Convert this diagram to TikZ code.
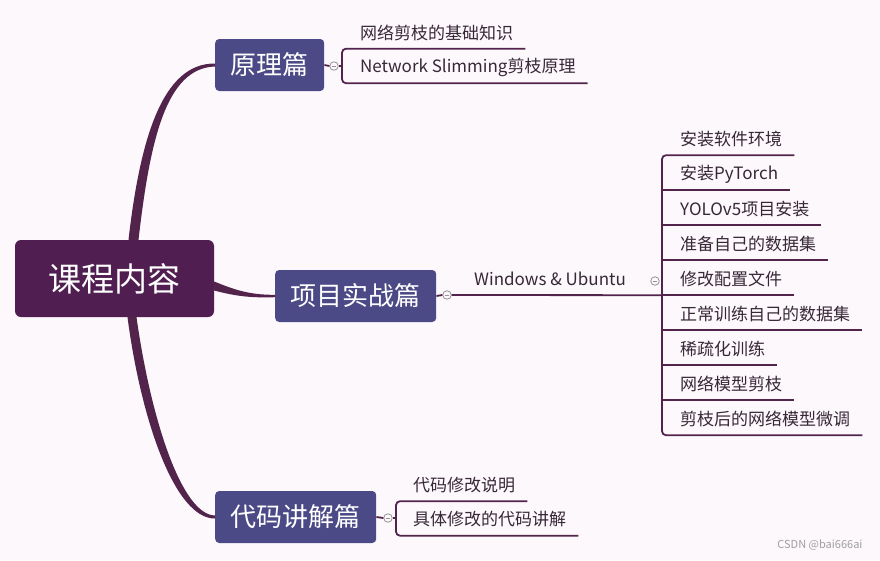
\documentclass[tikz,border=0pt]{standalone}
\usepackage{fontspec}
\setmainfont{Noto Sans CJK SC}
\usepackage{tikz}
\usetikzlibrary{calc,positioning}
\usepackage{xcolor}
\definecolor{paper}{RGB}{252,248,252}
\definecolor{hubc}{RGB}{80,30,80}
\definecolor{topicc}{RGB}{76,74,134}
\definecolor{twigc}{RGB}{82,36,76}
\definecolor{leafc}{RGB}{55,40,55}

\begin{document}
\begin{tikzpicture}[
  x=1pt, y=-1pt,
  hub/.style={fill=hubc, rounded corners=6pt, text=white, font=\fontsize{33}{38}\selectfont,
    minimum width=199pt, minimum height=77pt},
  topic/.style={fill=topicc, rounded corners=4pt, text=white, font=\fontsize{26}{30}\selectfont,
    minimum height=52pt, inner xsep=15.5pt, anchor=west},
  leaf/.style={anchor=west, inner xsep=0pt, minimum height=32pt, text=leafc,
    font=\fontsize{17}{20}\selectfont},
  twig/.style={draw=twigc, line width=1.8pt},
  knob/.style={circle, draw=gray!85, fill=paper, line width=0.8pt, minimum size=8.5pt, inner sep=0pt,
    path picture={\draw[gray!85, line width=0.7pt]
      ([xshift=-2.4pt]path picture bounding box.center) -- ([xshift=2.4pt]path picture bounding box.center);}},
  stamp/.style={anchor=east, text=gray!75, font=\fontsize{11}{13}\selectfont}
]
\fill[paper] (0,0) rectangle (880,560);

\node[hub] (hub) at (114.5,278.5) {课程内容};
\node[topic] (p1) at (215,65) {原理篇};
\node[topic] (p2) at (275,296) {项目实战篇};
\node[topic] (p3) at (215,517) {代码讲解篇};

% tapered branches
\fill[twigc] ($(hub.north)+(14,0)$) .. controls (140,140) and (162,63) .. ($(p1.west)+(0,-1.5)$)
  -- ($(p1.west)+(0,1.5)$) .. controls (166,68) and (150,140) .. ($(hub.north)+(24,0)$) -- cycle;
\fill[twigc] ($(hub.east)+(0,3)$) .. controls (235,290) and (250,295) .. ($(p2.west)+(0,-1.2)$)
  -- ($(p2.west)+(0,1.2)$) .. controls (250,298) and (235,296) .. ($(hub.east)+(0,12)$) -- cycle;
\fill[twigc] ($(hub.south)+(13,0)$) .. controls (141,420) and (175,519) .. ($(p3.west)+(0,1.5)$)
  -- ($(p3.west)+(0,-1.5)$) .. controls (182,515) and (151,420) .. ($(hub.south)+(22,0)$) -- cycle;

% 原理篇
\node[knob] (k1) at (334,66) {};
\node[leaf] (a1) at (360,32.5) {网络剪枝的基础知识};
\node[leaf] (a2) at (360,67) {Network Slimming剪枝原理};
\draw[twig] (p1.east) -- (k1.west);
\draw[twig, rounded corners=4pt] ($(a1.south east)+(12,0)$) -- ($(a1.south west)+(-18,0)$)
  -- ($(a2.south west)+(-18,0)$) -- ($(a2.south east)+(12,0)$);
\draw[twig] (k1.east) -- ($(k1 -| a2.west)+(-18,0)$);

% 项目实战篇
\node[knob] (k2) at (447,295) {};
\node[leaf] (wu) at (474,279) {Windows \& Ubuntu};
\node[knob] (k3) at (655,281) {};
\node[leaf] (b1) at (680,139) {安装软件环境};
\node[leaf] (b2) at (680,174) {安装PyTorch};
\node[leaf] (b3) at (680,209) {YOLOv5项目安装};
\node[leaf] (b4) at (680,244) {准备自己的数据集};
\node[leaf] (b5) at (680,279) {修改配置文件};
\node[leaf] (b6) at (680,314) {正常训练自己的数据集};
\node[leaf] (b7) at (680,349) {稀疏化训练};
\node[leaf] (b8) at (680,384) {网络模型剪枝};
\node[leaf] (b9) at (680,419) {剪枝后的网络模型微调};
\draw[twig] (p2.east) -- (k2.west);
\draw[twig] (k2.east) -- ($(b5.south west)+(-18,0)$);
\draw[twig, rounded corners=4pt] ($(b1.south east)+(12,0)$) -- ($(b1.south west)+(-18,0)$)
  -- ($(b9.south west)+(-18,0)$) -- ($(b9.south east)+(12,0)$);
\draw[twig] ($(b2.south west)+(-18,0)$) -- ($(b2.south east)+(12,0)$);
\draw[twig] ($(b3.south west)+(-18,0)$) -- ($(b3.south east)+(12,0)$);
\draw[twig] ($(b4.south west)+(-18,0)$) -- ($(b4.south east)+(12,0)$);
\draw[twig] ($(b5.south west)+(-18,0)$) -- ($(b5.south east)+(12,0)$);
\draw[twig] ($(b6.south west)+(-18,0)$) -- ($(b6.south east)+(12,0)$);
\draw[twig] ($(b7.south west)+(-18,0)$) -- ($(b7.south east)+(12,0)$);
\draw[twig] ($(b8.south west)+(-18,0)$) -- ($(b8.south east)+(12,0)$);

% 代码讲解篇
\node[knob] (k4) at (388,518) {};
\node[leaf] (c1) at (413,485) {代码修改说明};
\node[leaf] (c2) at (413,519.5) {具体修改的代码讲解};
\draw[twig] (p3.east) -- (k4.west);
\draw[twig, rounded corners=4pt] ($(c1.south east)+(12,0)$) -- ($(c1.south west)+(-17,0)$)
  -- ($(c2.south west)+(-17,0)$) -- ($(c2.south east)+(12,0)$);
\draw[twig] (k4.east) -- ($(k4 -| c1.west)+(-17,0)$);

\node[stamp] (wm) at (866,545) {CSDN @bai666ai};
\end{tikzpicture}
\end{document}
